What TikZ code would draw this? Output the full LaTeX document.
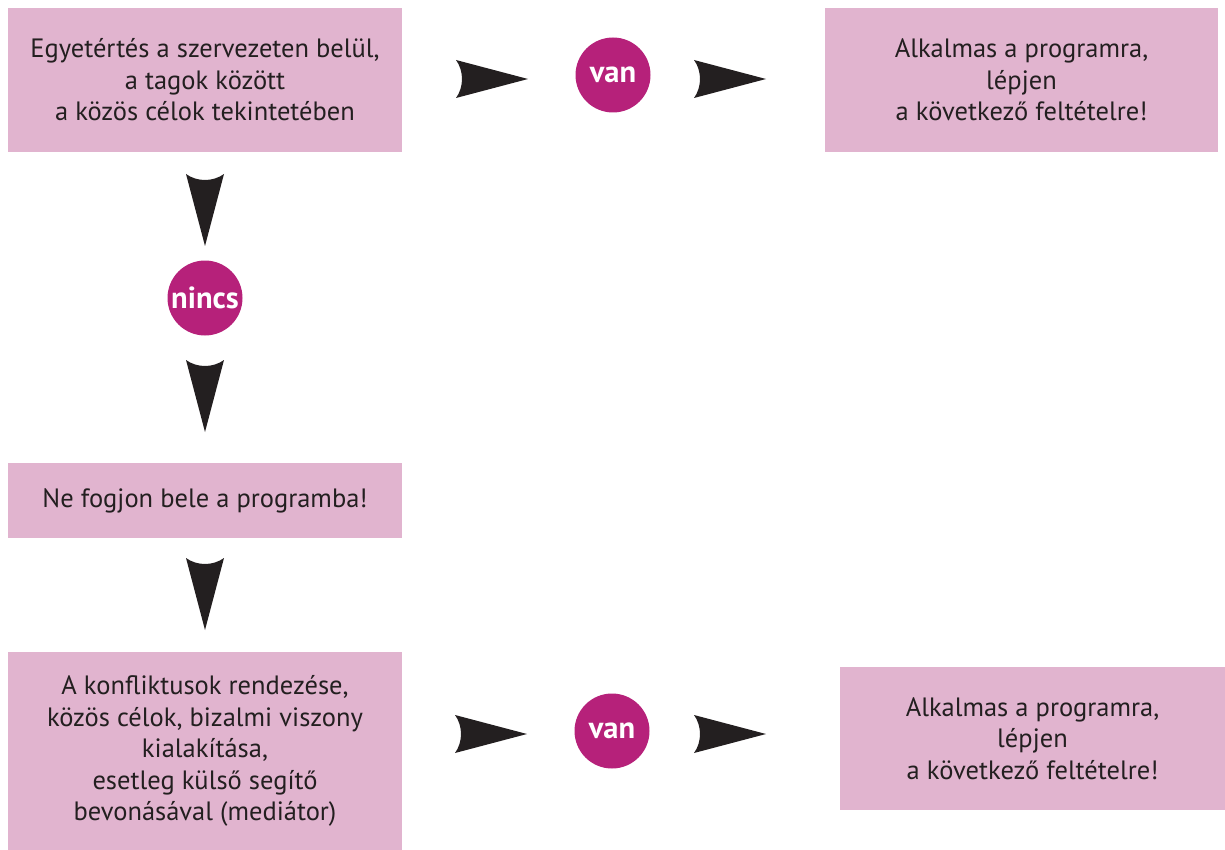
\documentclass[tikz,border=0pt]{standalone}
\usepackage{fontspec}
\setmainfont{PT Sans}
\definecolor{boxpink}{HTML}{E1B4CF}
\definecolor{circmag}{HTML}{B6217A}
\definecolor{txt}{HTML}{231F20}
\begin{document}
\begin{tikzpicture}[x=1pt,y=-1pt,
  box/.style={fill=boxpink,draw=none,text=txt,align=center,inner sep=0pt,
    font=\fontsize{26.5}{31.5}\selectfont},
  circ/.style={circle,fill=circmag,draw=none,text=white,minimum size=75pt,inner sep=0pt,
    font=\fontsize{30.5}{32}\selectfont\bfseries},
  dart/.pic={\fill[txt] (36,0) -- (-36,-19) .. controls (-28,-8) and (-28,8) .. (-36,19) -- cycle;}
]
\useasboundingbox (0,0) rectangle (1225,850);
\node[box,minimum width=394pt,minimum height=144pt] (b1) at (205,80)
  {Egyetértés a szervezeten belül,\\a tagok között\\a közös célok tekintetében};
\node[box,minimum width=393pt,minimum height=144pt] (b2) at (1021.5,80)
  {Alkalmas a programra,\\lépjen\\a következő feltételre!};
\node[box,minimum width=394pt,minimum height=75pt] (b3) at (205,500.5)
  {Ne fogjon bele a programba!};
\node[box,minimum width=394pt,minimum height=198pt] (b4) at (205,751)
  {A konfliktusok rendezése,\\közös célok, bizalmi viszony\\kialakítása,\\esetleg külső segítő\\bevonásával (mediátor)};
\node[box,minimum width=385pt,minimum height=143pt] (b5) at (1032.5,738.5)
  {Alkalmas a programra,\\lépjen\\a következő feltételre!};
\node[circ] (v1) at (613,75) {van};
\node[circ] (n1) at (205,298) {nincs};
\node[circ] (v2) at (612,731) {van};
\pic at (492,79) {dart};
\pic at (730,79) {dart};
\pic[rotate=-90] at (205,210) {dart};
\pic[rotate=-90] at (205,396) {dart};
\pic[rotate=-90] at (205,594) {dart};
\pic at (491,734) {dart};
\pic at (730,734) {dart};
\end{tikzpicture}
\end{document}
